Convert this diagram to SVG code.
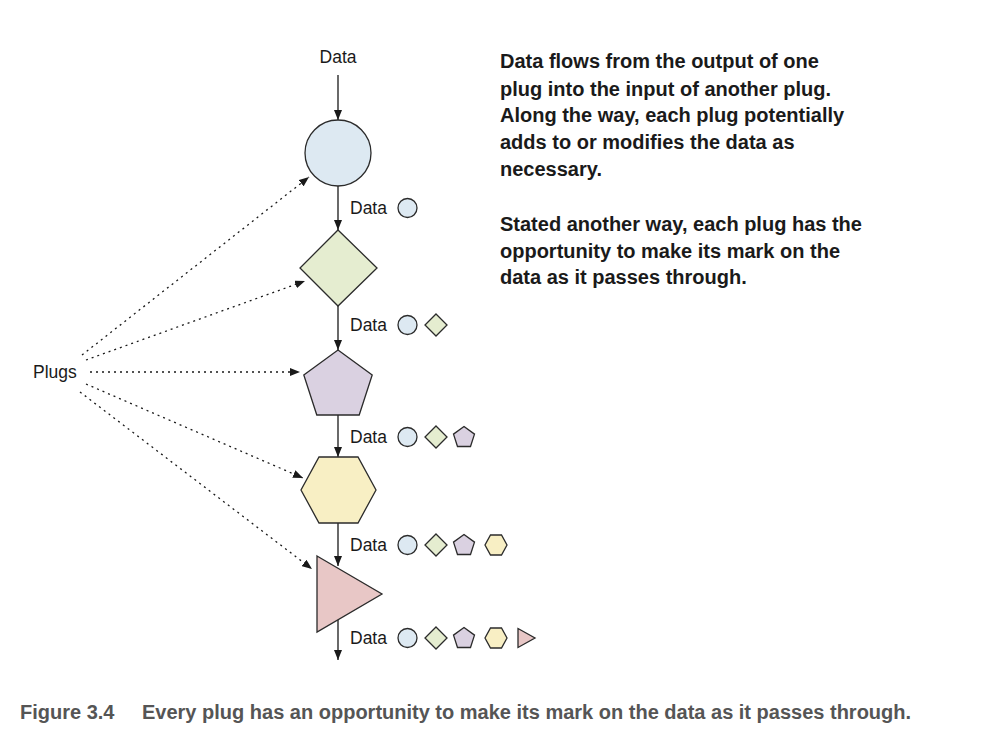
<svg xmlns="http://www.w3.org/2000/svg" width="990" height="749" viewBox="0 0 990 749">
<defs>
<style>
.lbl{font-family:"Liberation Sans",Arial,sans-serif;font-size:17.5px;fill:#1a1a1a}
.note{font-family:"Liberation Sans",Arial,sans-serif;font-size:20px;font-weight:bold;fill:#1a1a1a}
.cap{font-family:"Liberation Sans",Arial,sans-serif;font-size:20px;font-weight:bold;fill:#555}
.shp{stroke:#2b2b2b;stroke-width:1.3}
.flow{stroke:#1a1a1a;stroke-width:1.3;fill:none;marker-end:url(#ah)}
.plug{stroke:#1a1a1a;stroke-width:1.3;fill:none;stroke-dasharray:2 4;marker-end:url(#ah)}
.c{fill:#dde9f2}.d{fill:#e5edd0}.p{fill:#dad1e1}.h{fill:#f8efc4}.t{fill:#e8c7c6}
</style>
<marker id="ah" viewBox="0 0 10 8" refX="10" refY="4" markerWidth="10" markerHeight="8" markerUnits="userSpaceOnUse" orient="auto">
<path d="M0,0 L10,4 L0,8 z" fill="#1a1a1a"/>
</marker>
</defs>
<rect width="990" height="749" fill="#fff"/>

<g id="connectors">
<line class="flow" x1="338" y1="75" x2="338" y2="120"/>
<line class="flow" x1="338" y1="186" x2="338" y2="230"/>
<line class="flow" x1="338" y1="306" x2="338" y2="350"/>
<line class="flow" x1="338" y1="415" x2="338" y2="457"/>
<line class="flow" x1="338" y1="523" x2="338" y2="566"/>
<line class="flow" x1="338" y1="619" x2="338" y2="660"/>
<line class="plug" x1="82" y1="355" x2="309" y2="177"/>
<line class="plug" x1="86" y1="360" x2="305" y2="281"/>
<line class="plug" x1="90" y1="372" x2="300" y2="372"/>
<line class="plug" x1="86" y1="384" x2="303" y2="478"/>
<line class="plug" x1="80" y1="392" x2="312" y2="569"/>
</g>

<g id="input-label"><text class="lbl" x="338" y="63" text-anchor="middle">Data</text></g>
<g id="plugs-label"><text class="lbl" x="33" y="378">Plugs</text></g>

<g id="plug-circle"><circle class="shp c" cx="338" cy="153" r="33"/></g>
<g id="plug-diamond"><polygon class="shp d" points="338,230 377,268 338,306 300,268"/></g>
<g id="plug-pentagon"><polygon class="shp p" points="338,350 372.2,374.9 359.2,415 316.8,415 303.8,374.9"/></g>
<g id="plug-hexagon"><polygon class="shp h" points="319,457 358,457 376,490 358,523 319,523 301,490"/></g>
<g id="plug-triangle"><polygon class="shp t" points="317,556 382,594 317,632"/></g>

<g id="data-1">
<text class="lbl" x="350" y="214">Data</text>
<circle class="shp c" cx="407.5" cy="208" r="9.5"/>
</g>
<g id="data-2">
<text class="lbl" x="350" y="331">Data</text>
<circle class="shp c" cx="407.5" cy="325" r="9.5"/>
<polygon class="shp d" points="436,314 447,325 436,336 425,325"/>
</g>
<g id="data-3">
<text class="lbl" x="350" y="443">Data</text>
<circle class="shp c" cx="407.5" cy="437" r="9.5"/>
<polygon class="shp d" points="436,426 447,437 436,448 425,437"/>
<polygon class="shp p" points="464,426.5 474.5,434.1 470.5,446.5 457.5,446.5 453.5,434.1"/>
</g>
<g id="data-4">
<text class="lbl" x="350" y="551">Data</text>
<circle class="shp c" cx="407.5" cy="545" r="9.5"/>
<polygon class="shp d" points="436,534 447,545 436,556 425,545"/>
<polygon class="shp p" points="464,534.5 474.5,542.1 470.5,554.5 457.5,554.5 453.5,542.1"/>
<polygon class="shp h" points="490.5,535 501.5,535 507,545 501.5,555 490.5,555 485,545"/>
</g>
<g id="data-5">
<text class="lbl" x="350" y="644">Data</text>
<circle class="shp c" cx="407.5" cy="638" r="9.5"/>
<polygon class="shp d" points="436,627 447,638 436,649 425,638"/>
<polygon class="shp p" points="464,627.5 474.5,635.1 470.5,647.5 457.5,647.5 453.5,635.1"/>
<polygon class="shp h" points="490.5,628 501.5,628 507,638 501.5,648 490.5,648 485,638"/>
<polygon class="shp t" points="518,628.5 535,638 518,647.5"/>
</g>

<g id="note">
<text class="note" x="500" y="68">Data flows from the output of one</text>
<text class="note" x="500" y="96">plug into the input of another plug.</text>
<text class="note" x="500" y="122">Along the way, each plug potentially</text>
<text class="note" x="500" y="149">adds to or modifies the data as</text>
<text class="note" x="500" y="176">necessary.</text>
<text class="note" x="500" y="231">Stated another way, each plug has the</text>
<text class="note" x="500" y="258">opportunity to make its mark on the</text>
<text class="note" x="500" y="284">data as it passes through.</text>
</g>

<g id="caption">
<text class="cap" x="20" y="719">Figure 3.4</text>
<text class="cap" x="142" y="719">Every plug has an opportunity to make its mark on the data as it passes through.</text>
</g>
</svg>
